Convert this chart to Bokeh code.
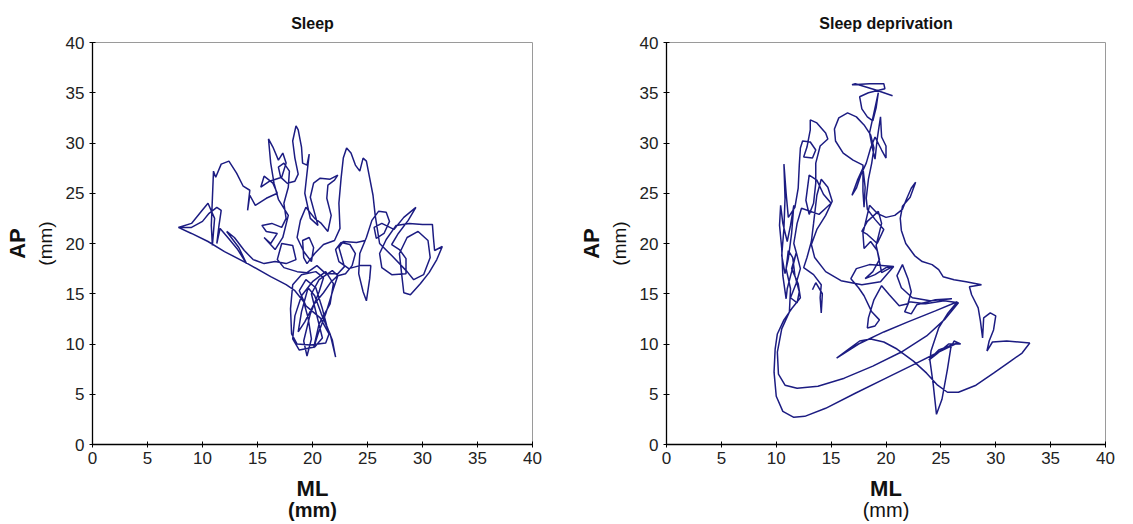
from bokeh.plotting import figure
from bokeh.models import Range1d, FixedTicker, LinearAxis
from bokeh.layouts import row
from bokeh.embed import file_html
from bokeh.resources import INLINE

# ---------------- data (ML, AP in mm) ----------------
ticks = [0, 5, 10, 15, 20, 25, 30, 35, 40]
titles = ["Sleep", "Sleep deprivation"]

sleep_path = [
    (7.8, 21.6), (9.0, 21.0), (10.5, 20.2), (12.0, 19.2), (14.1, 18.0), (16.2, 16.7), (17.6, 15.9), (18.4, 15.3), (19.2, 14.2), (19.6, 12.6),
    (19.9, 10.5), (19.5, 8.8), (19.2, 10.3), (19.8, 13.0), (20.6, 15.2), (21.0, 16.6), (20.3, 17.2), (19.0, 16.9), (18.2, 15.9), (18.0, 13.5),
    (18.1, 11.0), (18.6, 10.0), (19.8, 9.9), (21.2, 10.1), (21.5, 11.0), (20.7, 12.6), (19.4, 13.8), (18.8, 15.3), (19.4, 16.4), (20.3, 15.6),
    (20.9, 13.5), (21.3, 11.8), (21.8, 10.4), (22.1, 8.7), (21.6, 11.0), (20.8, 13.0), (20.2, 14.8), (19.6, 15.6), (19.0, 13.2), (18.7, 11.2),
    (19.3, 12.2), (20.1, 13.9), (21.0, 15.1), (21.7, 16.2), (22.3, 16.8), (21.9, 15.5), (21.2, 13.0), (20.5, 11.0), (20.1, 9.6), (20.6, 12.0),
    (21.6, 14.0), (21.9, 16.0), (21.2, 17.2), (20.0, 16.2), (19.0, 14.8), (18.4, 12.8), (18.2, 10.5), (18.8, 9.4), (20.2, 9.7), (20.9, 10.6),
    (20.4, 12.8), (19.9, 15.0), (20.6, 16.4), (21.8, 17.3), (22.3, 16.8), (23.0, 17.0), (23.6, 17.8), (23.9, 19.0), (23.4, 19.9), (22.6, 20.1),
    (22.1, 19.4), (22.4, 18.2), (23.3, 17.5), (24.3, 17.8), (25.3, 17.8), (25.2, 16.5), (24.9, 14.3), (24.6, 15.2), (24.2, 17.0), (24.3, 19.0),
    (24.9, 20.6), (25.4, 22.3), (26.0, 23.2), (26.7, 23.1), (27.0, 22.2), (26.5, 21.0), (25.8, 20.5), (25.6, 21.6), (26.3, 22.0), (27.4, 21.4),
    (28.3, 22.6), (29.4, 23.6), (28.7, 22.3), (27.8, 21.0), (27.2, 19.9), (27.9, 19.4), (28.5, 18.5), (28.5, 17.0), (27.2, 16.9), (26.3, 17.6),
    (26.1, 19.0), (26.7, 20.4), (27.6, 21.8), (28.8, 22.0), (30.0, 21.9), (30.9, 21.9), (31.0, 20.5), (31.1, 19.3), (31.8, 19.7), (31.3, 18.4),
    (30.6, 17.1), (29.8, 16.0), (28.9, 14.9), (28.3, 15.1), (28.1, 17.0), (27.9, 19.0), (28.6, 20.6), (29.6, 21.2), (30.5, 20.3), (30.7, 18.6),
    (30.1, 16.9), (29.2, 16.4), (28.6, 17.2), (27.2, 18.8), (26.1, 20.0), (25.7, 22.8), (25.5, 24.8), (25.2, 26.5), (24.9, 28.2), (24.6, 28.5),
    (24.3, 27.2), (23.9, 27.8), (23.5, 29.0), (23.1, 29.5), (22.8, 28.5), (22.6, 26.5), (22.4, 24.0), (22.5, 21.5), (22.0, 20.3), (21.0, 19.9),
    (20.2, 19.0), (19.5, 18.0), (19.2, 18.6), (19.1, 20.3), (19.7, 20.6), (20.1, 19.6), (19.9, 18.2), (19.2, 19.2), (18.6, 20.6), (18.9, 22.3),
    (19.4, 23.6), (20.2, 22.5), (20.8, 22.0), (21.4, 21.2), (21.7, 22.8), (21.3, 24.5), (21.4, 25.8), (22.0, 26.3), (22.3, 26.8), (21.6, 26.4),
    (20.7, 26.5), (20.1, 26.0), (19.8, 24.6), (20.2, 23.0), (20.5, 21.8), (19.8, 22.5), (19.3, 25.0), (19.5, 27.0), (19.7, 28.9), (19.5, 27.8),
    (19.1, 28.0), (19.0, 29.6), (18.7, 31.3), (18.5, 31.7), (18.2, 30.2), (18.4, 28.5), (18.7, 26.9), (18.4, 26.2), (17.7, 26.0), (17.1, 26.6),
    (16.9, 27.6), (17.4, 28.0), (17.9, 27.2), (17.8, 25.6), (17.4, 24.0), (17.6, 22.5), (17.2, 21.6), (16.3, 22.0), (15.4, 21.8), (15.8, 21.2),
    (16.8, 21.0), (16.2, 20.0), (15.6, 20.6), (16.6, 19.4), (17.3, 20.6), (17.8, 22.8), (16.9, 24.4), (16.5, 26.0), (16.2, 28.0), (16.0, 30.4),
    (16.4, 29.6), (16.9, 28.3), (17.3, 29.0), (17.6, 28.0), (17.2, 26.6), (16.1, 26.2), (15.3, 25.6), (15.6, 26.7), (16.4, 26.0), (16.8, 25.0),
    (15.8, 24.5), (14.8, 23.8), (14.3, 24.8), (14.1, 23.3), (14.3, 25.3), (13.7, 25.7), (13.1, 27.0), (12.4, 28.2), (11.7, 27.9), (11.2, 26.6),
    (11.0, 27.2), (10.9, 24.5), (10.8, 21.8), (10.9, 19.8), (11.1, 22.5), (10.5, 24.0), (9.9, 23.2), (9.0, 22.0), (7.8, 21.6), (9.0, 21.6),
    (10.0, 22.2), (10.6, 23.0), (11.3, 23.6), (11.7, 23.3), (11.5, 21.8), (11.3, 20.0), (11.6, 21.5), (12.3, 20.6), (13.2, 19.4), (14.0, 18.0),
    (13.3, 19.6), (12.2, 21.2), (12.9, 20.6), (13.8, 19.3), (14.6, 18.4), (15.6, 18.0), (16.6, 18.2), (17.6, 18.0), (18.5, 18.4), (18.2, 19.8),
    (17.2, 20.0), (16.8, 18.4), (17.4, 17.6), (18.6, 17.2), (19.5, 17.1), (20.4, 17.8), (21.2, 17.0), (22.3, 17.0), (22.9, 17.7), (22.4, 19.6),
    (22.8, 20.2), (24.0, 20.1), (24.8, 20.3),
]

deprivation_path = [
    (20.6, 34.7), (19.0, 35.3), (17.2, 35.9), (16.9, 35.8), (18.5, 35.9), (19.8, 35.9), (19.9, 35.4), (18.4, 35.0), (17.6, 34.6), (17.8, 33.4),
    (18.3, 32.6), (18.8, 32.2), (19.1, 33.5), (19.3, 35.0), (18.9, 33.0), (18.5, 31.0), (18.8, 29.3), (19.0, 28.4), (19.2, 30.4), (19.5, 32.6),
    (19.6, 30.6), (20.0, 29.7), (20.0, 28.5), (19.6, 29.3), (19.0, 30.6), (18.6, 29.5), (18.2, 28.0), (17.7, 26.8), (17.3, 25.5), (16.9, 24.8),
    (17.4, 26.3), (17.9, 27.5), (18.1, 25.6), (18.0, 23.6), (17.9, 25.2), (17.9, 27.8), (17.0, 28.3), (16.1, 29.0), (15.4, 30.2), (15.3, 31.4),
    (15.7, 32.5), (16.5, 33.0), (17.3, 32.6), (18.0, 31.8), (18.6, 30.8), (18.9, 29.5), (18.7, 28.0), (18.4, 26.4), (18.2, 24.5), (18.3, 23.4),
    (19.0, 22.4), (19.8, 21.4), (19.2, 20.0), (18.3, 20.9), (17.8, 21.2), (18.3, 22.2), (19.3, 23.2), (19.6, 22.0), (19.1, 19.8), (19.4, 18.4),
    (18.8, 17.2), (18.1, 16.5), (19.0, 16.9), (20.0, 17.6), (20.6, 17.7), (19.6, 17.1), (19.2, 19.3), (18.6, 20.2), (18.0, 19.5), (17.9, 21.0),
    (18.5, 23.8), (19.2, 23.0), (20.0, 22.6), (20.8, 22.8), (21.5, 23.4), (21.9, 24.5), (22.3, 25.5), (22.7, 26.1), (22.2, 24.6), (21.5, 23.7),
    (21.3, 22.5), (21.4, 21.3), (21.8, 20.0), (22.6, 18.8), (23.3, 18.2), (24.2, 17.9), (24.8, 17.4), (25.2, 16.7), (26.2, 16.4), (27.3, 16.2),
    (28.7, 15.9), (27.6, 15.7), (27.8, 14.9), (28.4, 13.6), (28.6, 12.3), (28.8, 10.6), (28.9, 12.6), (29.5, 13.1), (30.0, 12.8), (29.8, 11.4),
    (29.4, 10.3), (29.2, 9.3), (29.7, 10.2), (31.0, 10.3), (33.1, 10.1), (32.4, 9.1), (31.1, 8.1), (29.8, 7.1), (28.2, 5.9), (26.6, 5.2),
    (25.6, 5.2), (24.7, 5.9), (23.7, 7.1), (22.5, 8.3), (21.0, 9.5), (19.8, 10.2), (18.6, 10.5), (17.6, 10.3), (16.6, 9.5), (15.5, 8.6),
    (17.5, 10.0), (19.8, 11.2), (22.0, 12.2), (24.5, 13.3), (26.5, 14.2), (25.6, 13.0), (24.8, 11.6), (24.1, 9.3), (24.0, 8.4), (24.3, 6.0),
    (24.6, 3.0), (25.1, 4.5), (25.6, 7.5), (25.9, 9.6), (26.2, 10.3), (26.8, 10.0), (25.7, 10.0), (24.6, 9.0), (23.9, 8.4), (24.8, 9.4),
    (26.5, 10.1), (24.8, 9.2), (22.6, 8.0), (20.0, 6.6), (17.2, 5.1), (14.5, 3.6), (12.6, 2.8), (11.6, 2.7), (10.6, 3.3), (10.0, 4.8),
    (9.8, 7.2), (9.9, 9.5), (10.1, 11.0), (10.7, 12.4), (11.4, 13.5), (12.2, 14.6), (12.0, 16.0), (11.4, 17.5), (11.8, 19.0), (11.4, 17.2),
    (11.0, 15.5), (10.9, 14.5), (10.6, 16.8), (10.5, 19.5), (10.3, 21.8), (10.4, 23.8), (10.6, 22.0), (11.0, 20.2), (11.3, 21.8), (11.6, 23.8),
    (11.4, 21.0), (11.1, 18.5), (10.8, 17.0), (10.5, 18.8), (10.7, 21.5), (10.8, 24.5), (10.7, 27.9), (10.9, 25.0), (11.1, 22.6), (11.7, 23.6),
    (12.0, 25.5), (12.1, 27.8), (12.2, 29.5), (12.4, 30.2), (13.1, 30.1), (13.6, 29.3), (13.3, 28.5), (12.5, 28.6), (12.8, 29.6), (13.1, 31.3),
    (13.1, 32.3), (13.7, 32.0), (14.5, 31.0), (14.7, 30.4), (14.0, 29.7), (13.6, 28.0), (13.6, 26.0), (13.4, 24.0), (13.0, 22.9), (12.7, 24.3),
    (13.0, 26.8), (13.7, 26.3), (14.3, 24.9), (15.0, 24.0), (14.6, 23.6), (13.9, 22.9), (12.3, 23.5), (11.9, 22.0), (11.6, 20.0), (11.9, 18.8),
    (12.2, 17.5), (11.8, 16.0), (11.3, 14.6), (11.9, 14.1), (12.1, 15.2), (11.7, 16.8), (11.5, 18.6), (11.1, 19.3), (10.9, 17.5), (11.3, 15.5),
    (11.2, 13.2), (10.5, 11.5), (10.1, 9.2), (10.2, 7.0), (10.8, 5.9), (11.9, 5.6), (13.8, 5.8), (16.2, 6.6), (18.8, 7.8), (21.4, 9.2),
    (23.7, 10.8), (25.4, 12.5), (26.6, 14.1), (25.3, 14.3), (23.6, 14.0), (22.1, 14.2), (21.7, 13.2), (22.3, 13.0), (22.8, 13.9), (24.5, 14.4),
    (26.0, 14.5), (24.0, 14.3), (22.4, 14.6), (21.4, 15.6), (21.0, 16.8), (21.5, 17.9), (22.0, 16.5), (22.3, 15.2), (22.0, 14.0), (21.2, 13.8),
    (20.3, 14.9), (19.6, 15.8), (18.9, 14.4), (18.4, 12.6), (18.3, 11.6), (19.0, 11.8), (19.4, 12.4), (18.7, 13.2), (18.0, 14.8), (17.5, 15.6),
    (16.8, 16.5), (17.3, 17.5), (18.5, 17.9), (20.7, 17.7), (19.5, 16.2), (17.8, 15.9), (15.9, 16.3), (14.5, 17.2), (13.5, 18.6), (13.2, 19.9),
    (13.7, 21.4), (14.5, 22.8), (15.1, 24.2), (14.7, 25.6), (14.1, 26.4), (13.7, 24.8), (13.4, 22.0), (13.2, 20.2), (12.8, 18.6), (12.5, 17.6),
    (13.4, 16.9), (14.1, 15.9), (14.0, 14.6), (14.1, 13.1), (14.2, 15.0), (13.6, 16.1), (13.3, 15.4),
]

sleep_ml = [p[0] for p in sleep_path]
sleep_ap = [p[1] for p in sleep_path]
dep_ml = [p[0] for p in deprivation_path]
dep_ap = [p[1] for p in deprivation_path]

FONT = "Liberation Sans"
LINE = "#1c1c82"
TXT = "#111111"

FRAME_H = 402
TOP = 42


def label_axis(text, size, bold, standoff):
    return LinearAxis(ticker=FixedTicker(ticks=[]), axis_label=text,
                      axis_line_color=None, major_tick_line_color=None,
                      minor_tick_line_color=None, major_tick_in=0, major_tick_out=0,
                      major_label_standoff=0, axis_label_standoff=standoff,
                      axis_label_text_font=FONT, axis_label_text_font_size=size,
                      axis_label_text_font_style="bold" if bold else "normal",
                      axis_label_text_color=TXT)


def panel(xs, ys, title, left_border, frame_w, right_border, unit_bold):
    p = figure(frame_width=frame_w, frame_height=FRAME_H,
               min_border_left=left_border, min_border_right=right_border,
               min_border_top=TOP, min_border_bottom=524 - TOP - FRAME_H,
               x_range=Range1d(0, 40), y_range=Range1d(0, 40),
               output_backend="svg", toolbar_location=None,
               background_fill_color="white", border_fill_color="white")
    p.grid.visible = False
    p.outline_line_color = "#9a9a9a"
    p.outline_line_width = 1

    p.title.text = title
    p.title.align = "center"
    p.title.text_font = FONT
    p.title.text_font_size = "16px"
    p.title.text_font_style = "bold"
    p.title.text_color = TXT
    p.title.standoff = 22

    for ax in (p.xaxis[0], p.yaxis[0]):
        ax.ticker = FixedTicker(ticks=ticks)
        ax.axis_line_color = "black"
        ax.axis_line_width = 1.3
        ax.major_tick_line_color = "black"
        ax.major_tick_in = 3
        ax.major_tick_out = 3
        ax.minor_tick_line_color = None
        ax.major_label_text_font = FONT
        ax.major_label_text_font_size = "17px"
        ax.major_label_text_color = "#222222"
        ax.axis_label_text_font = FONT
        ax.axis_label_text_color = TXT
    p.xaxis[0].major_label_standoff = 4
    p.yaxis[0].major_label_standoff = 5

    # y label: "(mm)" next to the axis, bold "AP" outside it
    p.yaxis[0].axis_label = "(mm)"
    p.yaxis[0].axis_label_text_font_size = "19px"
    p.yaxis[0].axis_label_text_font_style = "normal"
    p.yaxis[0].axis_label_standoff = 7
    p.add_layout(label_axis("AP", "22px", True, 2), "left")

    # x label: bold "ML" then "(mm)" below
    p.xaxis[0].axis_label = "ML"
    p.xaxis[0].axis_label_text_font_size = "22px"
    p.xaxis[0].axis_label_text_font_style = "bold"
    p.xaxis[0].axis_label_standoff = 9
    p.add_layout(label_axis("(mm)", "20px", unit_bold, -5), "below")

    p.line(xs, ys, line_color=LINE, line_width=1.5)
    return p


p1 = panel(sleep_ml, sleep_ap, titles[0], 92, 440, 34, True)
p2 = panel(dep_ml, dep_ap, titles[1], 100, 439, 28, False)

layout = row(p1, p2)
open("out.html", "w").write(file_html(layout, INLINE))
